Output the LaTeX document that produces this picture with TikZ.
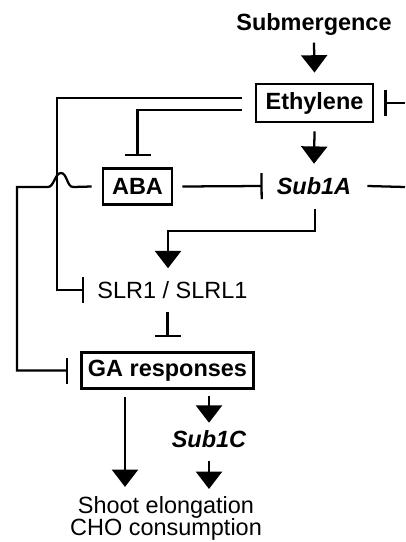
\documentclass[tikz,border=0pt]{standalone}
\usepackage{fontspec}
\setmainfont{Liberation Sans}
\usetikzlibrary{arrows.meta}

\tikzset{every picture/.style={line width=1.7pt}}
\tikzset{
  actv/.style={-{Triangle[length=13pt,width=19.5pt]}},
  inhb/.style={-{Bar[width=19.5pt]}},
  boxnode/.style={draw, inner sep=0pt, font=\fontsize{17.6}{16.5}\selectfont\bfseries},
  txtnode/.style={inner sep=0pt, font=\fontsize{17.6}{16.5}\selectfont},
}

\begin{document}
\begin{tikzpicture}[x=0.75pt,y=0.75pt,yscale=-1,xscale=1]
\useasboundingbox (0,0) rectangle (405,542);

% Text Node
\node [txtnode, font=\fontsize{17.6}{16.5}\selectfont\bfseries] (sub) at (314,24) {Submergence};
% Shape: Box
\node [boxnode, minimum width=88pt, minimum height=29pt] (eth) at (314.5,103) {Ethylene};
% Shape: Box
\node [boxnode, minimum width=52pt, minimum height=27pt] (aba) at (137.5,186.5) {ABA};
% Text Node
\node [txtnode, font=\fontsize{17.6}{16.5}\selectfont\bfseries\itshape] (s1a) at (314,186) {Sub1A};
% Text Node
\node [txtnode] (slr) at (172.5,290) {SLR1 / SLRL1};
% Shape: Box
\node [boxnode, minimum width=129pt, minimum height=27pt] (ga) at (167.5,370.5) {GA responses};
% Text Node
\node [txtnode, font=\fontsize{17.6}{16.5}\selectfont\bfseries\itshape] (s1c) at (209,439) {Sub1C};
% Text Node
\node [txtnode, align=center] (shoot) at (166,518) {Shoot elongation\\CHO consumption};

% free ends at the right border
\coordinate (edgeA) at (405,103);
\coordinate (edgeB) at (405,187);
% hop over the long vertical line
\coordinate (hopR) at (73,187);
\coordinate (hopL) at (48,187);

%Straight Lines
\draw [actv] ([shift={(0,6.5)}]sub.south) -- ([shift={(0,-10)}]eth.north);
\draw [inhb] (edgeA) -- ([shift={(10,0)}]eth.east);
\draw [inhb] ([shift={(-13,-5)}]eth.west) -| ([shift={(-39,0)}]slr.west) -- ([shift={(-12,0)}]slr.west);
\draw [inhb] ([shift={(-13,7)}]eth.west) -| ([shift={(0,-11)}]aba.north);
\draw [actv] ([shift={(0,8)}]eth.south) -- ([shift={(0,-12.5)}]s1a.north);
\draw [inhb] ([shift={(9,0)}]aba.east) -- ([shift={(-13,0)}]s1a.west);
\draw ([shift={(15,0)}]s1a.east) -- (edgeB);
\draw [actv] ([shift={(1,13)}]s1a.south) |- ([shift={(-4.5,-49)}]slr.north) -- ([shift={(-4.5,-12)}]slr.north);
\draw [inhb] ([shift={(-5,12)}]slr.south) -- ([shift={(0,-14)}]ga.north);
%Curve Lines
\draw [inhb] ([shift={(-10,0)}]aba.west) -- (hopR) .. controls (67,187) and (67,173) .. (61,173)
  .. controls (55,173) and (54,187) .. (hopL) -- (17,187) |- ([shift={(-12,0)}]ga.west);
%Straight Lines
\draw [actv] ([shift={(-42.5,7)}]ga.south) -- ([shift={(-41,-8)}]shoot.north);
\draw [actv] ([shift={(41.5,6)}]ga.south) -- ([shift={(0,-6.5)}]s1c.north);
\draw [actv] ([shift={(0,12)}]s1c.south) -- ([shift={(43,-6)}]shoot.north);

\end{tikzpicture}
\end{document}
